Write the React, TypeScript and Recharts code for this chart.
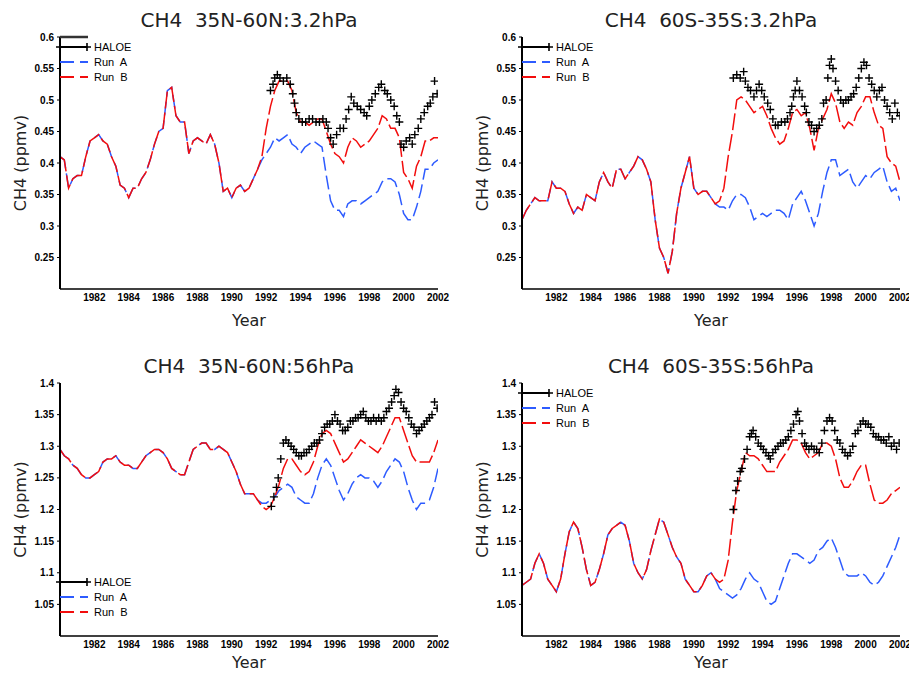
import React from 'react';
import { ComposedChart, Line, XAxis, YAxis } from 'recharts';

// ---------- shared categories / ticks ----------
const YEARS = [
  1980, 1980.25, 1980.5, 1980.75, 1981, 1981.25, 1981.5, 1981.75, 1982, 1982.25, 1982.5, 1982.75,
  1983, 1983.25, 1983.5, 1983.75, 1984, 1984.25, 1984.5, 1984.75, 1985, 1985.25, 1985.5, 1985.75,
  1986, 1986.25, 1986.5, 1986.75, 1987, 1987.25, 1987.5, 1987.75, 1988, 1988.25, 1988.5, 1988.75,
  1989, 1989.25, 1989.5, 1989.75, 1990, 1990.25, 1990.5, 1990.75, 1991, 1991.25, 1991.5, 1991.75,
  1992, 1992.25, 1992.5, 1992.75, 1993, 1993.25, 1993.5, 1993.75, 1994, 1994.25, 1994.5, 1994.75,
  1995, 1995.25, 1995.5, 1995.75, 1996, 1996.25, 1996.5, 1996.75, 1997, 1997.25, 1997.5, 1997.75,
  1998, 1998.25, 1998.5, 1998.75, 1999, 1999.25, 1999.5, 1999.75, 2000, 2000.25, 2000.5, 2000.75,
  2001, 2001.25, 2001.5, 2001.75, 2002,
];
const X_TICKS = [1982, 1984, 1986, 1988, 1990, 1992, 1994, 1996, 1998, 2000, 2002];
const Y_TICKS_UPPER = [0.25, 0.3, 0.35, 0.4, 0.45, 0.5, 0.55, 0.6];
const Y_TICKS_LOWER = [1.05, 1.1, 1.15, 1.2, 1.25, 1.3, 1.35, 1.4];

// ---------- panel 1: 35N-60N 3.2hPa ----------
const P1_RUN_A = [
  0.41, 0.405, 0.36, 0.375, 0.38, 0.38, 0.41, 0.435, 0.44, 0.445, 0.435, 0.43,
  0.41, 0.395, 0.365, 0.36, 0.345, 0.36, 0.36, 0.375, 0.385, 0.405, 0.43, 0.45,
  0.455, 0.515, 0.52, 0.475, 0.465, 0.465, 0.415, 0.435, 0.44, 0.435, 0.43, 0.445,
  0.43, 0.4, 0.355, 0.36, 0.345, 0.36, 0.365, 0.355, 0.36, 0.375, 0.39, 0.405,
  0.415, 0.425, 0.44, 0.435, 0.44, 0.445, 0.43, 0.425, 0.415, 0.425, 0.43, 0.435,
  0.43, 0.425, 0.38, 0.34, 0.325, 0.325, 0.315, 0.335, 0.34, 0.34, 0.335, 0.34,
  0.345, 0.35, 0.355, 0.37, 0.375, 0.375, 0.37, 0.35, 0.32, 0.31, 0.31, 0.33,
  0.355, 0.39, 0.39, 0.4, 0.405,
];
const P1_RUN_B = [
  0.41, 0.405, 0.36, 0.375, 0.38, 0.38, 0.41, 0.435, 0.44, 0.445, 0.435, 0.43,
  0.41, 0.395, 0.365, 0.36, 0.345, 0.36, 0.36, 0.375, 0.385, 0.405, 0.43, 0.45,
  0.455, 0.515, 0.52, 0.475, 0.465, 0.465, 0.415, 0.435, 0.44, 0.435, 0.43, 0.445,
  0.43, 0.4, 0.355, 0.36, 0.345, 0.36, 0.365, 0.355, 0.36, 0.375, 0.39, 0.41,
  0.455, 0.49, 0.515, 0.53, 0.53, 0.53, 0.515, 0.48, 0.465, 0.465, 0.46, 0.465,
  0.47, 0.47, 0.45, 0.43, 0.415, 0.41, 0.4, 0.425, 0.44, 0.435, 0.425, 0.43,
  0.435, 0.445, 0.455, 0.475, 0.47, 0.455, 0.455, 0.44, 0.385, 0.375, 0.36, 0.395,
  0.41, 0.435, 0.435, 0.44, 0.44,
];
const P1_HALOE_YEARS = [
  1992.25, 1992.4, 1992.5, 1992.65, 1992.8, 1993.0, 1993.2, 1993.4, 1993.55, 1993.65, 1993.75, 1993.9,
  1994.1, 1994.3, 1994.5, 1994.7, 1994.9, 1995.1, 1995.3, 1995.5, 1995.6, 1995.75, 1995.9, 1996.1,
  1996.3, 1996.5, 1996.65, 1996.8, 1996.95, 1997.1, 1997.3, 1997.5, 1997.7, 1997.85, 1998.0, 1998.15,
  1998.35, 1998.55, 1998.7, 1998.9, 1999.05, 1999.25, 1999.45, 1999.6, 1999.75, 1999.85, 2000.0, 2000.15,
  2000.35, 2000.5, 2000.65, 2000.85, 2001.0, 2001.2, 2001.4, 2001.55, 2001.7, 2001.8, 2001.95,
];
const P1_HALOE = [
  0.515, 0.525, 0.535, 0.54, 0.535, 0.53, 0.535, 0.525, 0.51, 0.495, 0.48, 0.47,
  0.465, 0.465, 0.47, 0.47, 0.465, 0.465, 0.47, 0.465, 0.455, 0.44, 0.43, 0.445,
  0.455, 0.455, 0.47, 0.485, 0.505, 0.495, 0.49, 0.485, 0.48, 0.475, 0.49, 0.5,
  0.51, 0.52, 0.525, 0.515, 0.51, 0.5, 0.49, 0.475, 0.465, 0.43, 0.425, 0.435,
  0.44, 0.43, 0.445, 0.455, 0.47, 0.48, 0.49, 0.495, 0.505, 0.53, 0.51,
];

// ---------- panel 2: 60S-35S 3.2hPa ----------
const P2_RUN_A = [
  0.31, 0.325, 0.335, 0.345, 0.34, 0.34, 0.34, 0.37, 0.36, 0.36, 0.355, 0.335,
  0.32, 0.33, 0.325, 0.35, 0.345, 0.34, 0.37, 0.385, 0.37, 0.36, 0.39, 0.39,
  0.375, 0.385, 0.395, 0.41, 0.405, 0.39, 0.37, 0.31, 0.265, 0.25, 0.225, 0.26,
  0.32, 0.36, 0.385, 0.41, 0.36, 0.35, 0.355, 0.355, 0.345, 0.335, 0.33, 0.33,
  0.325, 0.34, 0.35, 0.35, 0.345, 0.33, 0.31, 0.315, 0.32, 0.315, 0.32, 0.325,
  0.325, 0.32, 0.31, 0.335, 0.345, 0.355, 0.34, 0.32, 0.3, 0.32, 0.355, 0.385,
  0.405, 0.405, 0.38, 0.385, 0.39, 0.37, 0.36, 0.37, 0.38, 0.375, 0.385, 0.39,
  0.395, 0.37, 0.355, 0.36, 0.34,
];
const P2_RUN_B = [
  0.31, 0.325, 0.335, 0.345, 0.34, 0.34, 0.34, 0.37, 0.36, 0.36, 0.355, 0.335,
  0.32, 0.33, 0.325, 0.35, 0.345, 0.34, 0.37, 0.385, 0.37, 0.36, 0.39, 0.39,
  0.375, 0.385, 0.395, 0.41, 0.405, 0.39, 0.37, 0.31, 0.265, 0.25, 0.225, 0.26,
  0.32, 0.36, 0.385, 0.41, 0.36, 0.35, 0.355, 0.355, 0.345, 0.335, 0.34, 0.36,
  0.41, 0.45, 0.5, 0.505, 0.5, 0.49, 0.48, 0.485, 0.49, 0.475, 0.455, 0.44,
  0.43, 0.435, 0.455, 0.48, 0.485, 0.475, 0.48, 0.455, 0.42, 0.455, 0.47, 0.485,
  0.51, 0.495, 0.465, 0.455, 0.465, 0.46, 0.48, 0.49, 0.505, 0.505, 0.48, 0.46,
  0.455, 0.41, 0.4, 0.395, 0.37,
];
const P2_HALOE_YEARS = [
  1992.3, 1992.5, 1992.7, 1992.9, 1993.0, 1993.15, 1993.3, 1993.5, 1993.65, 1993.8, 1993.95, 1994.1,
  1994.3, 1994.45, 1994.6, 1994.75, 1994.9, 1995.1, 1995.3, 1995.45, 1995.6, 1995.7, 1995.8, 1995.9,
  1996.0, 1996.15, 1996.3, 1996.45, 1996.55, 1996.7, 1996.85, 1997.0, 1997.15, 1997.3, 1997.45, 1997.55,
  1997.7, 1997.8, 1997.9, 1998.0, 1998.1, 1998.25, 1998.4, 1998.55, 1998.7, 1998.85, 1999.0, 1999.15,
  1999.3, 1999.45, 1999.6, 1999.75, 1999.9, 2000.05, 2000.2, 2000.35, 2000.5, 2000.65, 2000.8, 2000.95,
  2001.1, 2001.25, 2001.4, 2001.55, 2001.7, 2001.85, 2002.0,
];
const P2_HALOE = [
  0.535, 0.54, 0.535, 0.545, 0.53, 0.52, 0.515, 0.505, 0.515, 0.525, 0.515, 0.505,
  0.495, 0.485, 0.47, 0.46, 0.46, 0.465, 0.465, 0.47, 0.48, 0.49, 0.505, 0.515,
  0.53, 0.515, 0.505, 0.49, 0.48, 0.465, 0.46, 0.45, 0.455, 0.46, 0.47, 0.495,
  0.5, 0.535, 0.555, 0.565, 0.55, 0.53, 0.515, 0.5, 0.495, 0.5, 0.5, 0.505,
  0.51, 0.52, 0.535, 0.55, 0.56, 0.555, 0.535, 0.525, 0.515, 0.505, 0.515, 0.52,
  0.5, 0.49, 0.48, 0.47, 0.495, 0.48, 0.475,
];

// ---------- panel 3: 35N-60N 56hPa ----------
const P3_RUN_A = [
  1.295, 1.285, 1.28, 1.27, 1.265, 1.255, 1.25, 1.25, 1.255, 1.26, 1.275, 1.28,
  1.28, 1.285, 1.275, 1.27, 1.27, 1.265, 1.265, 1.275, 1.285, 1.29, 1.295, 1.295,
  1.29, 1.28, 1.265, 1.26, 1.255, 1.255, 1.275, 1.295, 1.3, 1.305, 1.305, 1.295,
  1.295, 1.3, 1.295, 1.29, 1.275, 1.26, 1.24, 1.225, 1.225, 1.225, 1.215, 1.21,
  1.21, 1.215, 1.22, 1.23, 1.235, 1.24, 1.235, 1.22, 1.215, 1.21, 1.21, 1.225,
  1.25, 1.27, 1.28, 1.27, 1.25, 1.23, 1.215, 1.225, 1.24, 1.25, 1.255, 1.25,
  1.25, 1.245, 1.235, 1.245, 1.26, 1.27, 1.28, 1.275, 1.26, 1.235, 1.215, 1.2,
  1.21, 1.21, 1.215, 1.235, 1.265,
];
const P3_RUN_B = [
  1.295, 1.285, 1.28, 1.27, 1.265, 1.255, 1.25, 1.25, 1.255, 1.26, 1.275, 1.28,
  1.28, 1.285, 1.275, 1.27, 1.27, 1.265, 1.265, 1.275, 1.285, 1.29, 1.295, 1.295,
  1.29, 1.28, 1.265, 1.26, 1.255, 1.255, 1.275, 1.295, 1.3, 1.305, 1.305, 1.295,
  1.295, 1.3, 1.295, 1.29, 1.275, 1.26, 1.24, 1.225, 1.225, 1.225, 1.215, 1.205,
  1.2, 1.205, 1.22, 1.24, 1.265, 1.28, 1.28, 1.27, 1.26, 1.255, 1.26, 1.275,
  1.3, 1.32, 1.325, 1.32, 1.305, 1.29, 1.275, 1.28, 1.29, 1.3, 1.31, 1.305,
  1.3, 1.295, 1.29, 1.3, 1.315, 1.33, 1.345, 1.345, 1.325, 1.305, 1.285, 1.275,
  1.275, 1.275, 1.275, 1.29, 1.31,
];
const P3_HALOE_YEARS = [
  1992.3, 1992.45, 1992.6, 1992.7, 1992.85, 1993.0, 1993.15, 1993.3, 1993.45, 1993.6, 1993.75, 1993.9,
  1994.05, 1994.2, 1994.35, 1994.5, 1994.65, 1994.8, 1994.95, 1995.1, 1995.25, 1995.4, 1995.55, 1995.7,
  1995.85, 1996.0, 1996.15, 1996.3, 1996.45, 1996.6, 1996.75, 1996.9, 1997.05, 1997.2, 1997.35, 1997.5,
  1997.65, 1997.8, 1997.95, 1998.1, 1998.25, 1998.4, 1998.55, 1998.7, 1998.85, 1999.0, 1999.15, 1999.3,
  1999.45, 1999.55, 1999.7, 1999.85, 2000.0, 2000.15, 2000.3, 2000.45, 2000.6, 2000.75, 2000.9, 2001.05,
  2001.2, 2001.35, 2001.5, 2001.65, 2001.8, 2001.95,
];
const P3_HALOE = [
  1.205, 1.22, 1.235, 1.25, 1.28, 1.305, 1.31, 1.305, 1.3, 1.295, 1.29, 1.285,
  1.285, 1.29, 1.29, 1.295, 1.3, 1.305, 1.305, 1.31, 1.32, 1.33, 1.335, 1.335,
  1.34, 1.35, 1.34, 1.335, 1.325, 1.325, 1.33, 1.34, 1.34, 1.345, 1.345, 1.35,
  1.355, 1.345, 1.34, 1.34, 1.345, 1.34, 1.345, 1.34, 1.345, 1.355, 1.36, 1.37,
  1.38, 1.39, 1.385, 1.37, 1.36, 1.355, 1.345, 1.335, 1.33, 1.32, 1.325, 1.33,
  1.335, 1.34, 1.345, 1.35, 1.37, 1.36,
];

// ---------- panel 4: 60S-35S 56hPa ----------
const P4_RUN_A = [
  1.08, 1.085, 1.09, 1.115, 1.13, 1.115, 1.09, 1.08, 1.07, 1.09, 1.13, 1.165,
  1.18, 1.17, 1.14, 1.105, 1.08, 1.085, 1.105, 1.13, 1.16, 1.17, 1.175, 1.18,
  1.175, 1.15, 1.115, 1.1, 1.09, 1.105, 1.135, 1.16, 1.185, 1.18, 1.16, 1.14,
  1.125, 1.115, 1.09, 1.08, 1.07, 1.07, 1.08, 1.095, 1.1, 1.09, 1.075, 1.07,
  1.065, 1.06, 1.065, 1.075, 1.09, 1.1, 1.09, 1.085, 1.07, 1.055, 1.05, 1.055,
  1.075, 1.095, 1.115, 1.13, 1.13, 1.125, 1.12, 1.115, 1.12, 1.135, 1.14, 1.15,
  1.155, 1.14, 1.12, 1.1, 1.095, 1.095, 1.095, 1.1, 1.095, 1.085, 1.08, 1.085,
  1.095, 1.11, 1.125, 1.14, 1.16,
];
const P4_RUN_B = [
  1.08, 1.085, 1.09, 1.115, 1.13, 1.115, 1.09, 1.08, 1.07, 1.09, 1.13, 1.165,
  1.18, 1.17, 1.14, 1.105, 1.08, 1.085, 1.105, 1.13, 1.16, 1.17, 1.175, 1.18,
  1.175, 1.15, 1.115, 1.1, 1.09, 1.105, 1.135, 1.16, 1.185, 1.18, 1.16, 1.14,
  1.125, 1.115, 1.09, 1.08, 1.07, 1.07, 1.08, 1.095, 1.1, 1.09, 1.085, 1.09,
  1.12, 1.18, 1.23, 1.26, 1.29, 1.285, 1.285, 1.28, 1.27, 1.26, 1.26, 1.26,
  1.275, 1.285, 1.295, 1.31, 1.31, 1.305, 1.29, 1.28, 1.285, 1.29, 1.305, 1.305,
  1.3, 1.28, 1.25, 1.235, 1.235, 1.245, 1.26, 1.27, 1.27, 1.24, 1.215, 1.21,
  1.21, 1.215, 1.225, 1.23, 1.235,
];
const P4_HALOE_YEARS = [
  1992.3, 1992.45, 1992.55, 1992.7, 1992.8, 1992.95, 1993.1, 1993.25, 1993.35, 1993.45, 1993.6, 1993.75,
  1993.9, 1994.05, 1994.2, 1994.35, 1994.45, 1994.6, 1994.75, 1994.9, 1995.05, 1995.2, 1995.35, 1995.5,
  1995.65, 1995.8, 1995.95, 1996.05, 1996.15, 1996.3, 1996.45, 1996.55, 1996.7, 1996.85, 1997.0, 1997.15,
  1997.3, 1997.45, 1997.6, 1997.75, 1997.9, 1998.05, 1998.2, 1998.35, 1998.5, 1998.65, 1998.8, 1998.95,
  1999.1, 1999.25, 1999.4, 1999.55, 1999.7, 1999.85, 2000.0, 2000.15, 2000.3, 2000.45, 2000.6, 2000.75,
  2000.9, 2001.05, 2001.2, 2001.35, 2001.5, 2001.65, 2001.8, 2001.95,
];
const P4_HALOE = [
  1.2, 1.23, 1.245, 1.26, 1.265, 1.28, 1.295, 1.315, 1.32, 1.325, 1.315, 1.305,
  1.3, 1.295, 1.29, 1.285, 1.28, 1.29, 1.295, 1.3, 1.305, 1.305, 1.31, 1.315,
  1.325, 1.335, 1.35, 1.355, 1.34, 1.32, 1.305, 1.3, 1.295, 1.3, 1.295, 1.295,
  1.29, 1.305, 1.325, 1.34, 1.345, 1.34, 1.325, 1.31, 1.305, 1.295, 1.29, 1.285,
  1.29, 1.3, 1.32, 1.325, 1.335, 1.34, 1.335, 1.335, 1.33, 1.32, 1.315, 1.315,
  1.31, 1.31, 1.305, 1.315, 1.3, 1.305, 1.295, 1.305,
];

// ---------- styling ----------
const BLUE = '#2d5bff';
const RED = '#f20d0d';
const TICK_FONT = { fontSize: 10, fontWeight: 'bold' as const, fill: '#000', fontFamily: 'Liberation Sans, Arial, sans-serif' };
const LABEL_FONT = 'DejaVu Sans, sans-serif';

const plus = (p: any) => {
  const { cx, cy, index } = p;
  if (cx == null || cy == null || isNaN(cx) || isNaN(cy)) return <g key={`e${index}`} />;
  return (
    <path
      key={`h${index}`}
      d={`M${cx - 4},${cy}H${cx + 4}M${cx},${cy - 4}V${cy + 4}`}
      stroke="#000"
      strokeWidth={1.4}
      fill="none"
    />
  );
};

type PanelProps = {
  left: number;
  top: number;
  width: number;
  height: number;
  bottomH: number;
  rightM: number;
  title: string;
  runA: number[];
  runB: number[];
  haloeYears: number[];
  haloe: number[];
  yDomain: [number, number];
  yTicks: number[];
  legendY: number;
  yearY: number;
  stray?: boolean;
};

const PLOT_LEFT = 60;
const PLOT_TOP = 37;

function Panel(props: PanelProps) {
  const { left, top, width, height, bottomH, rightM, title, runA, runB, haloeYears, haloe, yDomain, yTicks, legendY, yearY, stray } = props;
  const rows = YEARS.map((x, i) => ({ x, a: runA[i], b: runB[i] }));
  const hRows = haloeYears.map((x, i) => ({ x, h: haloe[i] }));
  const plotRight = width - rightM;
  const plotBottom = height - bottomH;
  const cx = (PLOT_LEFT + plotRight) / 2;
  const cy = (PLOT_TOP + plotBottom) / 2;
  const lx0 = PLOT_LEFT;
  const lx1 = PLOT_LEFT + 27;
  const tx = PLOT_LEFT + 34;
  return (
    <div style={{ position: 'absolute', left, top, width, height }}>
      <ComposedChart width={width} height={height} data={rows} margin={{ top: PLOT_TOP, right: rightM, bottom: 0, left: 0 }}>
        <XAxis
          dataKey="x"
          type="number"
          domain={[1980, 2002]}
          ticks={X_TICKS}
          interval={0}
          allowDataOverflow
          height={bottomH}
          tickLine={false}
          tickSize={0}
          tickMargin={5}
          axisLine={{ stroke: '#000', strokeWidth: 1.5 }}
          tick={TICK_FONT}
        />
        <XAxis
          xAxisId="top"
          orientation="top"
          type="number"
          domain={[1980, 2002]}
          height={0}
          tick={false}
          tickLine={false}
          axisLine={{ stroke: '#000', strokeWidth: 1.5 }}
        />
        <YAxis
          type="number"
          domain={yDomain}
          ticks={yTicks}
          interval={0}
          allowDataOverflow
          width={PLOT_LEFT}
          tickSize={3}
          tickMargin={3}
          tickLine={{ stroke: '#000' }}
          axisLine={{ stroke: '#000', strokeWidth: 2 }}
          tick={TICK_FONT}
        />
        <YAxis
          yAxisId="right"
          orientation="right"
          type="number"
          domain={yDomain}
          width={0}
          tick={false}
          tickLine={false}
          axisLine={{ stroke: '#000', strokeWidth: 1.5 }}
        />
        <Line dataKey="a" stroke={BLUE} strokeWidth={1.5} strokeDasharray="14 5" dot={false} activeDot={false} isAnimationActive={false} />
        <Line dataKey="b" stroke={RED} strokeWidth={1.5} strokeDasharray="17 4" dot={false} activeDot={false} isAnimationActive={false} />
        <Line data={hRows} dataKey="h" stroke="none" dot={plus} activeDot={false} isAnimationActive={false} />
      </ComposedChart>
      <svg width={width} height={height} style={{ position: 'absolute', left: 0, top: 0, pointerEvents: 'none' }}>
        <text x={cx} y={PLOT_TOP - 10} textAnchor="middle" fontFamily={LABEL_FONT} fontSize={20} fill="#222" style={{ whiteSpace: 'pre' }}>
          {title}
        </text>
        <text x={cx} y={yearY} textAnchor="middle" fontFamily={LABEL_FONT} fontSize={16} fill="#222">
          Year
        </text>
        <text
          x={20}
          y={cy}
          textAnchor="middle"
          dominantBaseline="central"
          fontFamily={LABEL_FONT}
          fontSize={16}
          fill="#222"
          transform={`rotate(-90 20 ${cy})`}
        >
          CH4 (ppmv)
        </text>
        {stray && <line x1={lx0} x2={lx1 + 1} y1={PLOT_TOP} y2={PLOT_TOP} stroke="#333" strokeWidth={2.5} />}
        {/* legend */}
        <line x1={lx0} x2={lx1} y1={legendY} y2={legendY} stroke="#000" strokeWidth={2} />
        <path d={`M${lx0 - 4},${legendY}H${lx0 + 4}M${lx0},${legendY - 4}V${legendY + 4}`} stroke="#000" strokeWidth={1.6} />
        <path d={`M${lx1 - 4},${legendY}H${lx1 + 4}M${lx1},${legendY - 4}V${legendY + 4}`} stroke="#000" strokeWidth={1.6} />
        <text x={tx} y={legendY + 4} fontFamily="Liberation Sans, Arial, sans-serif" fontSize={11} fill="#000">HALOE</text>
        <line x1={lx0} x2={lx1 + 1} y1={legendY + 15} y2={legendY + 15} stroke={BLUE} strokeWidth={1.8} strokeDasharray="14 6" />
        <text x={tx} y={legendY + 19} fontFamily="Liberation Sans, Arial, sans-serif" fontSize={11} fill="#000" style={{ whiteSpace: 'pre' }}>Run  A</text>
        <line x1={lx0} x2={lx1 + 1} y1={legendY + 30} y2={legendY + 30} stroke={RED} strokeWidth={1.8} strokeDasharray="14 6" />
        <text x={tx} y={legendY + 34} fontFamily="Liberation Sans, Arial, sans-serif" fontSize={11} fill="#000" style={{ whiteSpace: 'pre' }}>Run  B</text>
      </svg>
    </div>
  );
}

export default function App() {
  return (
    <div style={{ position: 'absolute', left: 0, top: 0, width: 909, height: 673, overflow: 'hidden', background: '#fff' }}>
      <Panel
        left={0} top={0} width={455} height={337} bottomH={48} rightM={17}
        title="CH4  35N-60N:3.2hPa"
        runA={P1_RUN_A} runB={P1_RUN_B} haloeYears={P1_HALOE_YEARS} haloe={P1_HALOE}
        yDomain={[0.2, 0.6]} yTicks={Y_TICKS_UPPER} legendY={47} yearY={326} stray
      />
      <Panel
        left={462} top={0} width={447} height={337} bottomH={48} rightM={9}
        title="CH4  60S-35S:3.2hPa"
        runA={P2_RUN_A} runB={P2_RUN_B} haloeYears={P2_HALOE_YEARS} haloe={P2_HALOE}
        yDomain={[0.2, 0.6]} yTicks={Y_TICKS_UPPER} legendY={47} yearY={326}
      />
      <Panel
        left={0} top={346} width={455} height={327} bottomH={37} rightM={17}
        title="CH4  35N-60N:56hPa"
        runA={P3_RUN_A} runB={P3_RUN_B} haloeYears={P3_HALOE_YEARS} haloe={P3_HALOE}
        yDomain={[1.0, 1.4]} yTicks={Y_TICKS_LOWER} legendY={236} yearY={322}
      />
      <Panel
        left={462} top={346} width={447} height={327} bottomH={37} rightM={9}
        title="CH4  60S-35S:56hPa"
        runA={P4_RUN_A} runB={P4_RUN_B} haloeYears={P4_HALOE_YEARS} haloe={P4_HALOE}
        yDomain={[1.0, 1.4]} yTicks={Y_TICKS_LOWER} legendY={47} yearY={322}
      />
    </div>
  );
}
